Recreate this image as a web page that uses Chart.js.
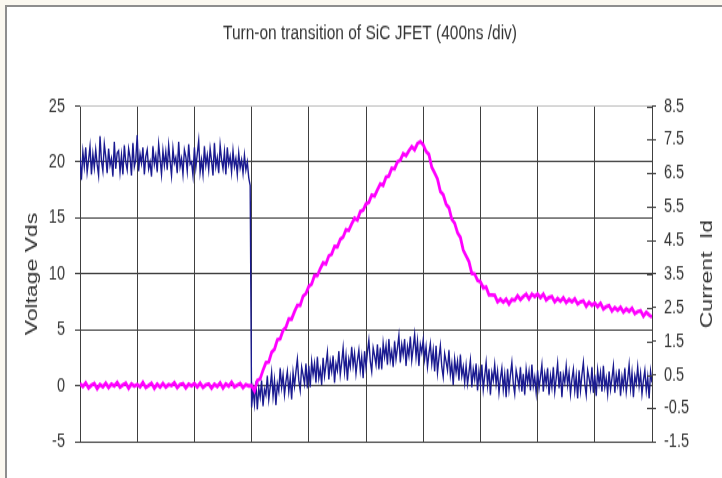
<!DOCTYPE html>
<html>
<head>
<meta charset="utf-8">
<title>Turn-on transition of SiC JFET</title>
<script src="https://cdn.jsdelivr.net/npm/chart.js@4/dist/chart.umd.min.js"></script>
<style>
  body { margin: 0; background: #fbf8f0; overflow: hidden; }
  #frame {
    position: absolute; left: 5px; top: 5px; width: 760px; height: 520px;
    background: #fff; border-left: 2px solid #8e8e8e; border-top: 2px solid #8e8e8e;
  }
  /* the source picture is stretched vertically, so the chart is drawn short and scaled up */
  #wrap {
    position: absolute; left: 0; top: 0; width: 722px; height: 354px;
    transform: scaleY(1.3503); transform-origin: 0 0;
  }
</style>
</head>
<body>
<div id="frame"></div>
<div id="wrap"><canvas id="chart" width="722" height="354"></canvas></div>
<script>
'use strict'

const chartTitle = 'Turn-on transition of SiC JFET (400ns /div)';
const voltageTitle = 'Voltage Vds';
const currentTitle = 'Current  Id';

// time in divisions (400 ns/div)
const vdsStep = 0.025;
const idStep = 0.05;

// Vds, left axis (V), one sample every 0.025 div
const vdsValues = [
  20.4, 18.4, 20.9, 19.6, 21.3, 19.1, 20.2, 21.4, 18.9, 20.7,
  19.5, 21.1, 19.8, 18.8, 22.3, 20.1, 19.2, 21.6, 20.5, 19.0,
  21.2, 19.7, 20.3, 18.7, 21.8, 19.4, 20.8, 21.0, 19.1, 20.6,
  18.9, 21.5, 20.0, 19.3, 21.2, 20.4, 18.8, 21.7, 19.6, 20.2,
  22.4, 19.2, 20.7, 19.9, 21.3, 18.9, 20.5, 21.1, 19.4, 20.0,
  18.7, 21.4, 19.8, 20.6, 19.1, 21.6, 20.3, 18.9, 21.0, 19.7,
  20.9, 19.3, 21.5, 20.1, 18.8, 21.2, 19.9, 20.4, 19.0, 21.8,
  19.6, 20.3, 18.9, 21.1, 20.5, 19.2, 21.6, 19.8, 20.0, 18.8,
  21.3, 19.5, 20.7, 21.9, 19.1, 20.2, 18.9, 21.4, 19.7, 20.6,
  19.3, 21.2, 20.1, 18.8, 21.7, 19.6, 20.4, 19.0, 21.5, 20.2,
  19.4, 20.9, 18.9, 21.3, 19.8, 20.5, 19.1, 21.0, 19.6, 20.3,
  18.9, 20.8, 19.5, 20.2, 19.0, 20.6, 19.3, 20.0, 18.6, 17.9,
  -1.9, -0.3, -1.6, 0.4, -2.1, -0.2, -1.0, 0.5, -1.8, -0.3,
  -0.8, 0.9, -1.2, -0.1, 1.2, -0.9, 0.5, -1.7, 0.2, -0.5,
  1.6, -0.1, 1.0, -0.8, 0.4, 1.3, -0.5, 0.7, -1.2, 1.2,
  0.0, 1.3, 2.4, 0.5, -0.4, 1.7, 1.0, 0.2, 2.0, -0.2,
  1.8, -0.1, 2.2, 1.0, 2.0, 0.3, 2.6, 0.7, 1.5, 0.1,
  2.5, 0.9, 1.9, 3.0, 0.6, 2.2, 1.3, 2.7, 0.3, 2.0,
  1.4, 3.1, 1.0, 2.1, 3.4, 1.3, 2.7, 0.5, 2.4, 1.7,
  3.5, 1.8, 2.9, 1.1, 2.3, 3.2, 1.4, 2.6, 0.7, 3.1,
  1.7, 3.0, 4.1, 2.2, 1.3, 3.4, 2.7, 1.9, 3.7, 1.5,
  3.4, 1.5, 3.8, 2.6, 3.6, 1.9, 4.2, 2.3, 3.1, 1.7,
  4.0, 2.4, 3.4, 4.5, 2.1, 3.7, 2.8, 4.2, 1.8, 3.5,
  2.7, 4.4, 2.3, 3.4, 4.6, 2.6, 4.0, 1.8, 3.7, 3.0,
  4.1, 2.4, 3.5, 1.7, 2.9, 3.8, 2.0, 3.2, 1.3, 3.6,
  1.2, 2.5, 3.6, 1.7, 0.8, 2.9, 2.2, 1.4, 3.2, 1.0,
  2.0, 0.1, 2.4, 1.2, 2.2, 0.5, 2.8, 0.9, 1.7, 0.3,
  1.8, 0.2, 1.2, 2.3, -0.1, 1.5, 0.6, 2.0, -0.4, 1.3,
  0.2, 1.9, -0.3, 0.9, 2.1, 0.1, 1.5, -0.8, 1.2, 0.5,
  1.9, 0.2, 1.3, -0.6, 0.7, 1.6, -0.3, 1.0, -1.0, 1.5,
  -0.3, 1.0, 2.1, 0.2, -0.7, 1.4, 0.7, -0.1, 1.7, -0.5,
  1.1, -0.8, 1.5, 0.3, 1.3, -0.4, 1.9, 0.0, 0.8, -0.6,
  1.4, -0.2, 0.8, 1.9, -0.5, 1.1, 0.2, 1.6, -0.8, 0.9,
  -0.1, 1.7, -0.5, 0.7, 2.0, -0.2, 1.3, -1.0, 1.0, 0.3,
  1.8, 0.1, 1.2, -0.7, 0.6, 1.5, -0.4, 0.9, -1.1, 1.4,
  -0.4, 1.0, 2.1, 0.2, -0.8, 1.4, 0.7, -0.2, 1.7, -0.6,
  1.0, -0.9, 1.4, 0.2, 1.2, -0.5, 1.8, -0.1, 0.7, -0.7,
  1.3, -0.3, 0.7, 1.8, -0.6, 1.0, 0.1, 1.5, -0.9, 0.8,
  -0.1, 1.6, -0.5, 0.6, 1.9, -0.2, 1.2, -1.0, 0.9, 0.2,
  1.7, 0.0, 1.1, -0.7, 0.5, 1.4, -0.4, 0.8, -1.1, 1.3,
  0.3
];

// Id, right axis (A), one sample every 0.05 div
const idValues = [
  0.23, 0.15, 0.26, 0.11, 0.19, 0.24, 0.09, 0.21, 0.14, 0.25,
  0.12, 0.22, 0.17, 0.27, 0.13, 0.20, 0.25, 0.10, 0.23, 0.16,
  0.21, 0.14, 0.27, 0.12, 0.18, 0.25, 0.10, 0.22, 0.13, 0.24,
  0.13, 0.21, 0.18, 0.26, 0.12, 0.21, 0.24, 0.11, 0.22, 0.17,
  0.24, 0.14, 0.25, 0.12, 0.20, 0.23, 0.10, 0.22, 0.15, 0.26,
  0.11, 0.23, 0.16, 0.28, 0.14, 0.19, 0.24, 0.12, 0.21, 0.17,
  0.17, 0.02, 0.33, 0.38, 0.64, 0.86, 0.88, 1.17, 1.26, 1.54,
  1.57, 1.82, 1.91, 2.16, 2.16, 2.38, 2.57, 2.57, 2.84, 2.92,
  3.13, 3.20, 3.46, 3.45, 3.66, 3.83, 3.80, 4.04, 4.09, 4.32,
  4.31, 4.53, 4.60, 4.82, 4.80, 4.99, 5.16, 5.11, 5.36, 5.40,
  5.59, 5.63, 5.85, 5.82, 6.01, 6.18, 6.14, 6.38, 6.42, 6.65,
  6.63, 6.84, 6.89, 7.08, 7.02, 7.17, 7.29, 7.20, 7.38, 7.44,
  7.35, 7.15, 7.06, 6.68, 6.51, 6.33, 5.96, 5.86, 5.58, 5.47,
  5.13, 5.01, 4.73, 4.59, 4.21, 4.04, 3.87, 3.52, 3.50, 3.31,
  3.27, 3.09, 3.11, 2.88, 2.88, 2.87, 2.67, 2.75, 2.66, 2.75,
  2.61, 2.74, 2.72, 2.85, 2.74, 2.83, 2.90, 2.76, 2.90, 2.83,
  2.90, 2.80, 2.90, 2.73, 2.80, 2.83, 2.67, 2.77, 2.69, 2.79,
  2.65, 2.74, 2.67, 2.76, 2.61, 2.67, 2.70, 2.54, 2.66, 2.57,
  2.63, 2.53, 2.63, 2.46, 2.53, 2.56, 2.40, 2.50, 2.42, 2.51,
  2.37, 2.46, 2.39, 2.48, 2.32, 2.38, 2.41, 2.25, 2.36, 2.28,
  2.22
];

const vdsTicks = { min: -5, max: 25, step: 5 };
const idTicks = { min: -1.5, max: 8.5, step: 1 };
const timeTicks = { min: 0, max: 10, step: 1 };

const gridColor = '#404040';
const textColor = '#333333';
const fontFamily = "'Liberation Sans', Arial, sans-serif";

function toPoints(values, step){
  return values.map((v, i) => ({ x: i * step, y: v }));
}

// right axis: ticks cross the axis line, title reads bottom to top
const rightAxisExtras = {
  id: 'rightAxisExtras',
  afterDraw(chart){
    const ctx = chart.ctx;
    const sc = chart.scales.yCur;
    ctx.save();
    ctx.strokeStyle = gridColor;
    ctx.lineWidth = 1;
    for (const t of sc.ticks){
      const y = Math.round(sc.getPixelForValue(t.value)) + 0.5;
      ctx.beginPath();
      ctx.moveTo(sc.left - 5, y);
      ctx.lineTo(sc.left, y);
      ctx.stroke();
    }
    ctx.font = '17px ' + fontFamily;
    ctx.fillStyle = textColor;
    ctx.textAlign = 'center';
    ctx.textBaseline = 'middle';
    ctx.translate(sc.right - 15, (chart.chartArea.top + chart.chartArea.bottom) / 2);
    ctx.rotate(-Math.PI / 2);
    ctx.fillText(currentTitle, 0, 0);
    ctx.restore();
  }
};

const ctx = document.getElementById('chart').getContext('2d');

const myChart = new Chart(ctx, {
  type: 'line',
  data: {
    datasets: [
      {
        label: 'Id',
        data: toPoints(idValues, idStep),
        yAxisID: 'yCur',
        borderColor: '#ff00ff',
        borderWidth: 2.8,
        pointRadius: 0,
        tension: 0
      },
      {
        label: 'Vds',
        data: toPoints(vdsValues, vdsStep),
        yAxisID: 'yVds',
        borderColor: '#1a1a90',
        borderWidth: 1.4,
        pointRadius: 0,
        tension: 0
      }
    ]
  },
  options: {
    responsive: false,
    animation: false,
    events: [],
    layout: { padding: { left: 18, right: 0, top: 0, bottom: 26.7 } },
    plugins: {
      legend: { display: false },
      tooltip: { enabled: false },
      title: {
        display: true,
        text: chartTitle,
        color: textColor,
        font: { family: fontFamily, size: 15.5, weight: 'normal' },
        padding: { top: 15.1, bottom: 44.8 }
      }
    },
    scales: {
      x: {
        type: 'linear',
        min: timeTicks.min,
        max: timeTicks.max,
        ticks: { display: false, stepSize: timeTicks.step },
        grid: { color: gridColor, drawTicks: false },
        border: { display: false }
      },
      yVds: {
        type: 'linear',
        position: 'left',
        min: vdsTicks.min,
        max: vdsTicks.max,
        afterFit: s => { s.width = 62; },
        ticks: {
          stepSize: vdsTicks.step,
          padding: 10,
          color: textColor,
          font: { family: fontFamily, size: 14.5 }
        },
        grid: {
          color: c => (c.tick && c.tick.value === vdsTicks.max) ? '#c4c4c4' : gridColor,
          tickColor: gridColor,
          tickLength: 5
        },
        border: { display: false },
        title: {
          display: true,
          text: voltageTitle,
          color: textColor,
          font: { family: fontFamily, size: 17 },
          padding: { top: 3.8, bottom: 0 }
        }
      },
      yCur: {
        type: 'linear',
        position: 'right',
        min: idTicks.min,
        max: idTicks.max,
        afterFit: s => { s.width = 70; },
        ticks: {
          stepSize: idTicks.step,
          padding: 8,
          color: textColor,
          font: { family: fontFamily, size: 14.5 }
        },
        grid: {
          drawOnChartArea: false,
          color: gridColor,
          tickLength: 4
        },
        border: { display: false }
      }
    }
  },
  plugins: [rightAxisExtras]
});
</script>
</body>
</html>
